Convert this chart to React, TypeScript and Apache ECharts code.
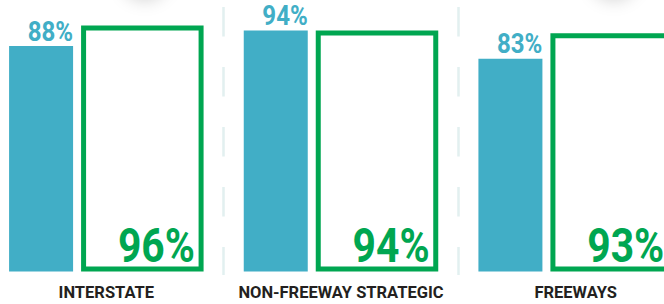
import React, { useEffect, useRef } from "react";
import * as echarts from "echarts";

const categories = ["INTERSTATE", "NON-FREEWAY STRATEGIC", "FREEWAYS"];
const filledValues = [88, 94, 83];
const outlineValues = [96, 94, 93];

const TEAL = "#41aec6";
const GREEN = "#00a651";
const SHIFT = 10.75; // chart div is shifted left so the outer category edges fall off-page
const TEAL_W = 64;
const GAP = 8;
const GREEN_W = 122.5;
const STROKE = 5;
const TOTAL_W = TEAL_W + GAP + GREEN_W;

export default function App() {
  const ref = useRef<HTMLDivElement>(null);
  useEffect(() => {
    if (!ref.current) return;
    const chart = echarts.init(ref.current, undefined, { renderer: "svg" });
    const filledData = categories.map((_, i) => [i, filledValues[i]]);
    const outlineData = categories.map((_, i) => [i, outlineValues[i]]);
    chart.setOption({
      animation: false,
      grid: { left: 0, right: 0, top: 7, bottom: 29, containLabel: false },
      xAxis: {
        type: "category",
        data: categories,
        axisLine: { show: false },
        axisTick: { show: false },
        splitLine: {
          show: true,
          interval: 0,
          lineStyle: { color: "#e2f0f0", width: 2.5, type: [29.5, 30.5] },
        },
        axisLabel: {
          interval: 0,
          hideOverlap: false,
          fontFamily: "Roboto",
          fontWeight: "bold",
          fontSize: 16.5,
          color: "#231f20",
          margin: 9,
          lineHeight: 16,
        },
      },
      yAxis: {
        type: "value",
        min: -1.4,
        max: 103.2,
        show: false,
        splitLine: { show: false },
      },
      graphic: [
        {
          type: "circle",
          x: 145 + SHIFT,
          y: -26,
          shape: { cx: 0, cy: 0, r: 24 },
          style: { fill: "#ffffff", shadowBlur: 16, shadowOffsetY: 3, shadowColor: "rgba(0,0,0,0.16)" },
          silent: true,
        },
        {
          type: "circle",
          x: 614 + SHIFT,
          y: -26,
          shape: { cx: 0, cy: 0, r: 24 },
          style: { fill: "#ffffff", shadowBlur: 16, shadowOffsetY: 3, shadowColor: "rgba(0,0,0,0.16)" },
          silent: true,
        },
      ],
      series: [
        {
          type: "custom",
          name: "filled",
          data: filledData,
          encode: { x: 0, y: 1 },
          renderItem: (params: any, api: any) => {
            const cat = api.value(0);
            const v = api.value(1);
            const top = api.coord([cat, v]);
            const base = api.coord([cat, 0]);
            const x0 = top[0] - TOTAL_W / 2;
            return {
              type: "group",
              children: [
                {
                  type: "rect",
                  shape: { x: x0, y: top[1], width: TEAL_W, height: base[1] - top[1] },
                  style: { fill: TEAL },
                },
                {
                  type: "text",
                  x: x0 + TEAL_W,
                  y: top[1] - 15,
                  scaleX: 0.86,
                  style: {
                    text: v + "%",
                    x: 0,
                    y: 0,
                    align: "right",
                    verticalAlign: "middle",
                    fill: TEAL,
                    fontFamily: "Roboto",
                    fontWeight: "bold",
                    fontSize: 28,
                  },
                },
              ],
            };
          },
        },
        {
          type: "custom",
          name: "outline",
          data: outlineData,
          encode: { x: 0, y: 1 },
          renderItem: (params: any, api: any) => {
            const cat = api.value(0);
            const v = api.value(1);
            const top = api.coord([cat, v]);
            const base = api.coord([cat, 0]);
            const gx = top[0] - TOTAL_W / 2 + TEAL_W + GAP;
            return {
              type: "group",
              children: [
                {
                  type: "rect",
                  shape: {
                    x: gx + STROKE / 2,
                    y: top[1] + STROKE / 2,
                    width: GREEN_W - STROKE,
                    height: base[1] - top[1] - STROKE,
                  },
                  style: { fill: "none", stroke: GREEN, lineWidth: STROKE },
                },
                {
                  type: "text",
                  x: gx + GREEN_W - STROKE - 3.7,
                  y: base[1] - 26,
                  scaleX: 0.85,
                  style: {
                    text: v + "%",
                    x: 0,
                    y: 0,
                    align: "right",
                    verticalAlign: "middle",
                    fill: GREEN,
                    fontFamily: "Roboto",
                    fontWeight: "bold",
                    fontSize: 48,
                  },
                },
              ],
            };
          },
        },
      ],
    });
    return () => chart.dispose();
  }, []);
  return (
    <div style={{ position: "absolute", left: 0, top: 0, width: 664, height: 304, overflow: "hidden", background: "#fff" }}>
      <div
        ref={ref}
        style={{ position: "absolute", left: -SHIFT, top: 0, width: 664 + 2 * SHIFT + 18.25, height: 304 }}
      />
    </div>
  );
}
